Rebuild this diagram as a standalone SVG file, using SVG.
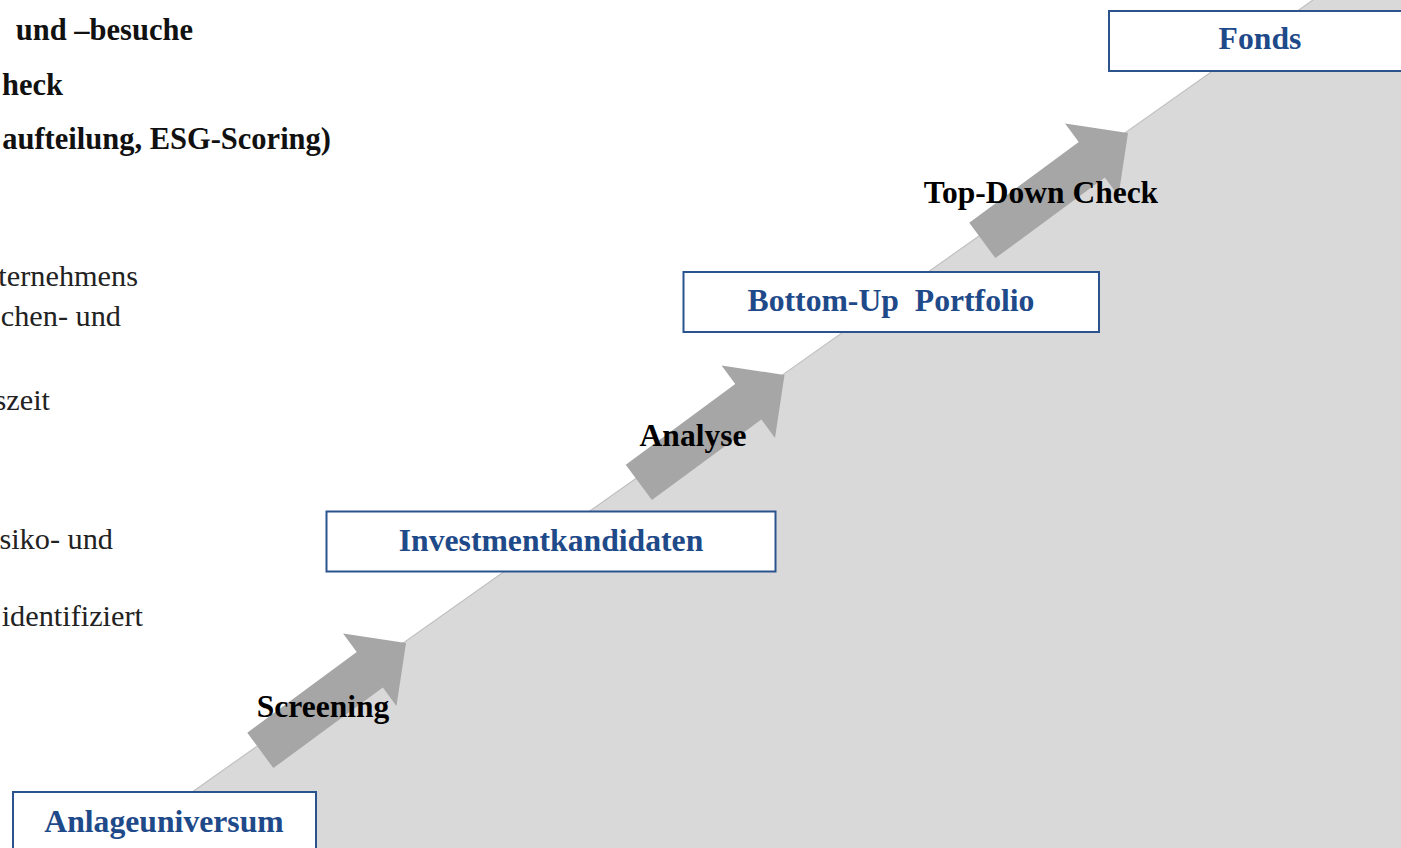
<svg xmlns="http://www.w3.org/2000/svg" width="1401" height="848" viewBox="0 0 1401 848">
<defs>
<style>
.bg{fill:#d9d9d9}
.edge{stroke:#c0c0c0;stroke-width:1.2;fill:none}
.box{fill:#ffffff;stroke:#2b548f;stroke-width:2}
.lbl{font-family:"Liberation Serif","Times New Roman",serif;font-weight:bold;font-size:31.7px;fill:#1f4a8a;text-anchor:middle;white-space:pre}
.alab{font-family:"Liberation Serif","Times New Roman",serif;font-weight:bold;font-size:31.5px;fill:#000000;text-anchor:middle}
.side{font-family:"Liberation Serif","Times New Roman",serif;font-size:30.3px;fill:#222222;text-anchor:end}
.sideb{font-family:"Liberation Serif","Times New Roman",serif;font-size:30.5px;font-weight:bold;fill:#111111;text-anchor:end}
.arr{fill:#a6a6a6}
</style>
<polygon id="arrowShape" class="arr" points="0,0 -45,45 -45,22 -181,22 -181,-22 -45,-22 -45,-45"/>
</defs>
<rect x="0" y="0" width="1401" height="848" fill="#ffffff"/>
<polygon class="bg" points="113,848 1313,0 1401,0 1401,848"/>
<line class="edge" x1="113" y1="848" x2="1313" y2="0"/>

<g id="side-text">
<text class="sideb" x="193" y="40">und –besuche</text>
<text class="sideb" x="63" y="95">heck</text>
<text class="sideb" x="331" y="149">aufteilung, ESG-Scoring)</text>
<text class="side" x="138" y="286">ternehmens</text>
<text class="side" x="121" y="326">chen- und</text>
<text class="side" x="50" y="410">szeit</text>
<text class="side" x="113" y="549">siko- und</text>
<text class="side" x="143" y="626">identifiziert</text>
</g>

<g id="connectors">
<g id="arrow-screening">
<use href="#arrowShape" transform="translate(406,643) rotate(-36.4)"/>
<text class="alab" x="323" y="717">Screening</text>
</g>
<g id="arrow-analyse">
<use href="#arrowShape" transform="translate(784.5,375) rotate(-36.4)"/>
<text class="alab" x="693" y="446">Analyse</text>
</g>
<g id="arrow-topdown">
<use href="#arrowShape" transform="translate(1128,133) rotate(-36.4)"/>
<text class="alab" x="1041" y="203">Top-Down Check</text>
</g>
</g>

<g id="node-anlageuniversum">
<rect class="box" x="13" y="792" width="303" height="62"/>
<text class="lbl" x="164" y="832">Anlageuniversum</text>
</g>
<g id="node-investmentkandidaten">
<rect class="box" x="326.5" y="511.5" width="449" height="60"/>
<text class="lbl" x="551" y="551">Investmentkandidaten</text>
</g>
<g id="node-bottomup">
<rect class="box" x="683.5" y="272" width="415.5" height="60"/>
<text class="lbl" x="891" y="311">Bottom-Up  Portfolio</text>
</g>
<g id="node-fonds">
<rect class="box" x="1109" y="11" width="310" height="60"/>
<text class="lbl" x="1260" y="49">Fonds</text>
</g>
</svg>
